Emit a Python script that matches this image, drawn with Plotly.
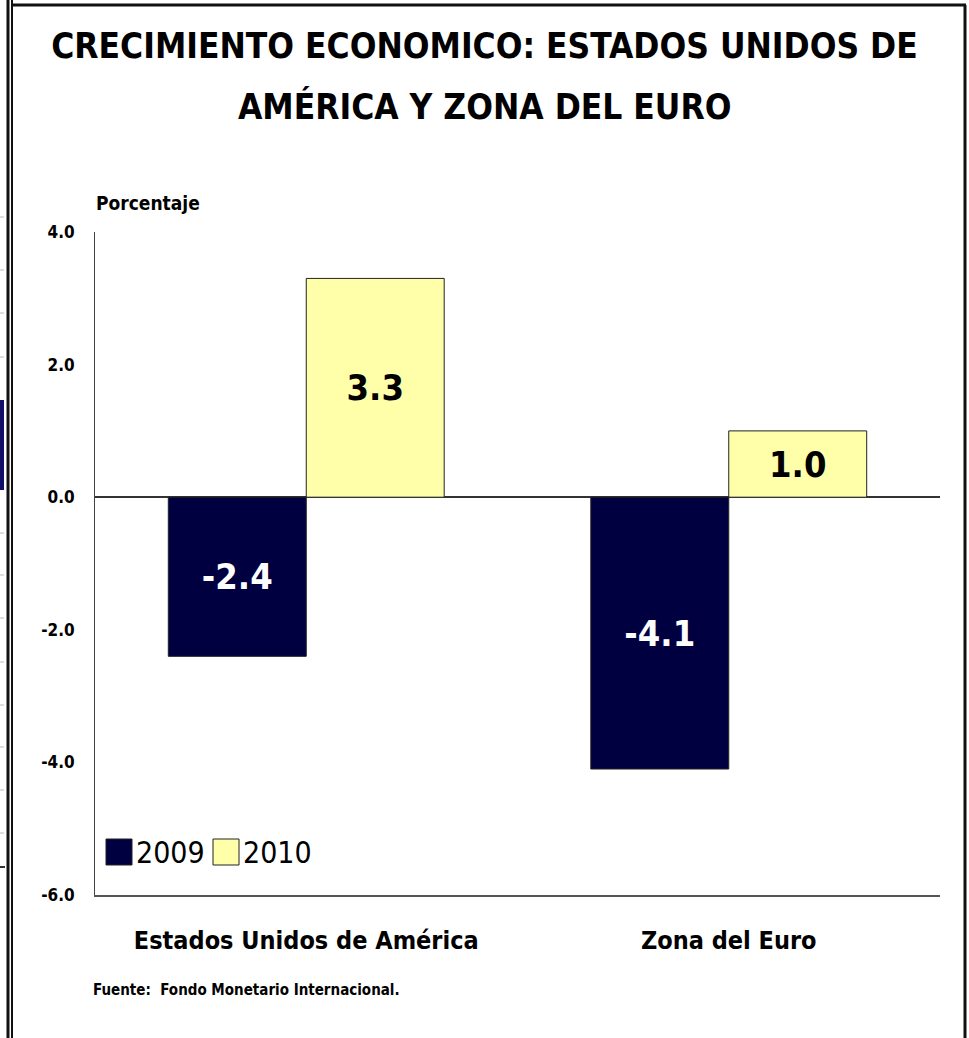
import plotly.graph_objects as go

categories = ["Estados Unidos de América", "Zona del Euro"]
series_names = ["2009", "2010"]
values_2009 = [-2.4, -4.1]
values_2010 = [3.3, 1.0]
y_ticks = [-6.0, -4.0, -2.0, 0.0, 2.0, 4.0]

title_line1 = "CRECIMIENTO ECONOMICO: ESTADOS UNIDOS DE"
title_line2 = "AMÉRICA Y ZONA DEL EURO"
unit_text = "Porcentaje"
source_text = "Fuente:  Fondo Monetario Internacional."

NARROW = "Liberation Sans Narrow, Arial Narrow, DejaVu Sans Condensed, sans-serif"
col_2009 = "#000040"
col_2010 = "#FFFFAA"

W, H = 969, 1038
L, R, T, B = 95, 29, 232, 143
pw, ph = W - L - R, H - T - B


def px(x):
    return (x - L) / pw


def py(y):
    return (H - B - y) / ph


fig = go.Figure()
fig.add_trace(go.Bar(
    x=categories, y=values_2009, name=series_names[0],
    marker=dict(color=col_2009, line=dict(color="#222222", width=1)),
    text=values_2009, texttemplate="%{y:.1f}", textposition="inside",
    insidetextanchor="middle", textangle=0, constraintext="none",
    textfont=dict(family=NARROW, size=36, color="white", weight="bold"),
    showlegend=False,
))
fig.add_trace(go.Bar(
    x=categories, y=values_2010, name=series_names[1],
    marker=dict(color=col_2010, line=dict(color="#222222", width=1)),
    text=values_2010, texttemplate="%{y:.1f}", textposition="inside",
    insidetextanchor="middle", textangle=0, constraintext="none",
    textfont=dict(family=NARROW, size=36, color="black", weight="bold"),
    showlegend=False,
))

shapes = []
annotations = []

# second title line (reference has wide line spacing)
annotations.append(dict(text=title_line2, xref="paper", yref="paper",
                        x=px(W / 2), y=py(106), xanchor="center", yanchor="middle",
                        showarrow=False,
                        font=dict(family=NARROW, size=35, color="black", weight="bold")))

# manual legend (large squares as in the reference)
leg_items = [(series_names[0], col_2009, 106), (series_names[1], col_2010, 213)]
for name, col, x0 in leg_items:
    shapes.append(dict(type="rect", xref="paper", yref="paper",
                       x0=px(x0), x1=px(x0 + 26), y0=py(865), y1=py(839),
                       fillcolor=col, line=dict(color="#222222", width=1)))
    annotations.append(dict(text=name, xref="paper", yref="paper",
                            x=px(x0 + 28), y=py(852), xanchor="left", yanchor="middle",
                            showarrow=False,
                            font=dict(family=NARROW, size=30, color="black")))

# unit label and source
annotations.append(dict(text=unit_text, xref="paper", yref="paper",
                        x=px(94), y=py(203), xanchor="left", yanchor="middle",
                        showarrow=False,
                        font=dict(family=NARROW, size=19, color="black", weight="bold")))
annotations.append(dict(text=source_text, xref="paper", yref="paper",
                        x=px(91), y=py(990), xanchor="left", yanchor="middle",
                        showarrow=False,
                        font=dict(family=NARROW, size=15, color="black", weight="bold")))

# frame lines around the slide
frame = [
    (8, 0, 8, H, 3), (12, 0, 12, H, 2),
    (12, 5, 966, 5, 3), (965, 5, 965, H, 3),
]
for x0, y0, x1, y1, w in frame:
    shapes.append(dict(type="line", xref="paper", yref="paper",
                       x0=px(x0), y0=py(y0), x1=px(x1), y1=py(y1),
                       line=dict(color="#111111", width=w)))
# left edge remnants
shapes.append(dict(type="rect", xref="paper", yref="paper",
                   x0=px(0), x1=px(4), y0=py(490), y1=py(400),
                   fillcolor="#10106A", line=dict(width=0)))
for yy in [217, 270, 313, 357, 533, 575, 618, 662, 705, 747, 790, 833]:
    shapes.append(dict(type="line", xref="paper", yref="paper",
                       x0=px(0), x1=px(4), y0=py(yy), y1=py(yy),
                       line=dict(color="#BBBBBB", width=1)))
shapes.append(dict(type="line", xref="paper", yref="paper",
                   x0=px(0), x1=px(5), y0=py(867), y1=py(867),
                   line=dict(color="#333333", width=2)))

fig.update_layout(
    width=W, height=H,
    margin=dict(l=L, r=R, t=T, b=B),
    paper_bgcolor="white", plot_bgcolor="white",
    barmode="group", bargap=0.347, bargroupgap=0,
    title=dict(text=title_line1, x=0.5, xref="container", xanchor="center",
               y=1 - 46 / H, yanchor="middle", yref="container",
               font=dict(family=NARROW, size=35, color="black", weight="bold")),
    shapes=shapes, annotations=annotations,
    showlegend=False,
)
fig.update_xaxes(
    showline=True, linecolor="#555555", linewidth=2, mirror=False,
    showgrid=False, ticks="", ticklabelstandoff=22,
    tickfont=dict(family=NARROW, size=25, color="black", weight="bold"),
)
fig.update_yaxes(
    range=[-6, 4], tickvals=y_ticks, ticktext=[f"{v:.1f}" for v in y_ticks],
    showline=True, linecolor="#444444", linewidth=1,
    showgrid=False, ticks="", ticklabelstandoff=16,
    zeroline=True, zerolinecolor="#333333", zerolinewidth=2,
    tickfont=dict(family=NARROW, size=17, color="black", weight="bold"),
)

fig.write_html(
    "out.html",
    config={"displayModeBar": False},
    post_script="document.body.style.margin='0';document.body.style.padding='0';"
                "document.body.style.overflow='hidden';",
)
